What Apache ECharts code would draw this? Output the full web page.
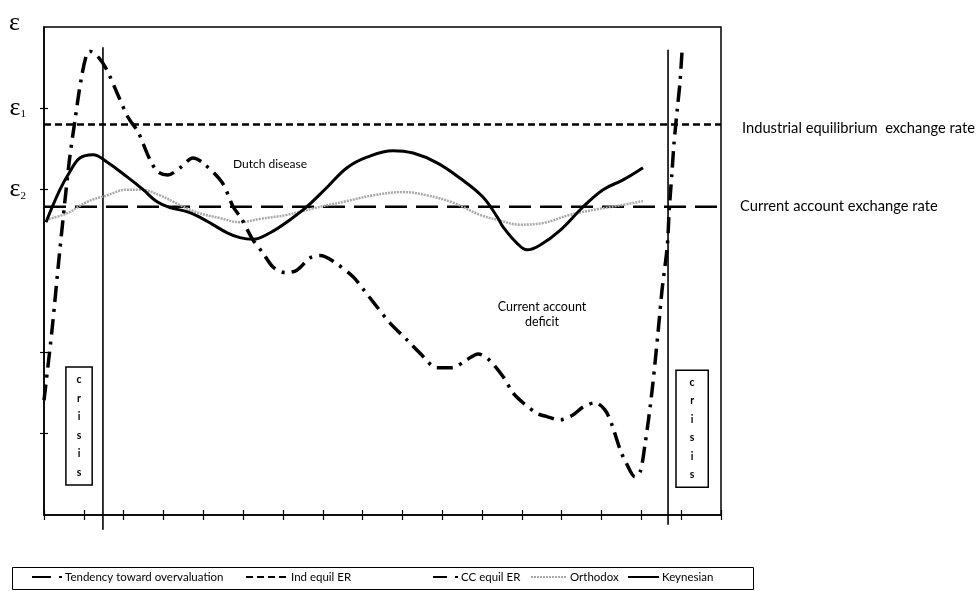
<!DOCTYPE html>
<html>
<head>
<meta charset="utf-8">
<script src="https://cdn.jsdelivr.net/npm/echarts@6/dist/echarts.min.js"></script>
<style>html,body{margin:0;padding:0;background:#fff;}#c{width:980px;height:591px;}</style>
</head>
<body>
<div id="c"></div>
<script>
// x: period index (0..17), y: exchange-rate level (0..6)
const tendency = [[0,1.41],[0.20,2.27],[0.38,3.17],[0.63,4.33],[0.78,4.86],[0.93,5.35],[1.08,5.68],[1.16,5.70],[1.38,5.62],[1.58,5.47],[1.86,5.16],[2.11,4.89],[2.36,4.71],[2.66,4.37],[2.86,4.22],[3.11,4.18],[3.42,4.27],[3.74,4.39],[3.99,4.33],[4.47,4.09],[4.75,3.79],[4.95,3.65],[5.25,3.38],[5.50,3.22],[5.75,3.05],[6.05,2.98],[6.35,3.01],[6.68,3.16],[6.93,3.19],[7.26,3.12],[7.76,2.93],[8.01,2.78],[8.36,2.56],[8.69,2.36],[9.12,2.15],[9.44,1.99],[9.87,1.81],[10.25,1.81],[10.62,1.91],[10.90,1.98],[11.15,1.92],[11.53,1.70],[11.78,1.50],[12.03,1.38],[12.38,1.25],[12.63,1.21],[12.96,1.17],[13.28,1.23],[13.54,1.33],[13.84,1.38],[14.09,1.29],[14.26,1.11],[14.47,0.80],[14.62,0.64],[14.84,0.47],[14.97,0.53],[15.09,0.86],[15.19,1.21],[15.29,1.62],[15.42,2.25],[15.52,2.77],[15.65,3.30],[15.70,3.75],[15.77,4.22],[15.82,4.57],[15.90,4.98],[15.97,5.32],[16.02,5.69]];
const keynesian = [[0.05,3.60],[0.40,4.00],[0.65,4.22],[0.90,4.39],[1.23,4.43],[1.58,4.34],[2.08,4.16],[2.49,4.00],[2.84,3.85],[3.16,3.78],[3.59,3.73],[3.92,3.66],[4.24,3.57],[4.60,3.47],[4.92,3.41],[5.25,3.39],[5.68,3.47],[6.18,3.63],[6.60,3.79],[7.11,4.03],[7.61,4.27],[8.11,4.40],[8.76,4.48],[9.27,4.45],[9.87,4.33],[10.45,4.14],[11.02,3.91],[11.40,3.65],[11.53,3.54],[11.88,3.34],[12.13,3.26],[12.46,3.32],[12.96,3.50],[13.54,3.79],[14.04,4.00],[14.54,4.12],[15.04,4.27]];
const orthodox = [[0.05,3.63],[0.58,3.71],[1.08,3.85],[1.58,3.93],[2.08,4.00],[2.41,4.00],[2.91,3.93],[3.42,3.81],[3.84,3.72],[4.42,3.65],[4.92,3.60],[5.42,3.64],[6.10,3.69],[6.76,3.77],[7.61,3.86],[8.26,3.93],[9.02,3.97],[9.62,3.93],[10.27,3.84],[10.95,3.69],[11.38,3.63],[11.95,3.57],[12.53,3.59],[13.21,3.69],[13.89,3.76],[14.39,3.80],[15.04,3.86]];
const indEquil = 4.8;
const ccEquil = 3.79;
const xRange = [0, 17];
const crisisX = [1.48, 15.67];
const crisisTop = [5.75, 5.72];
const crisisBottom = [-0.18, -0.12];
const crisisBoxX = [[0.55, 1.21], [15.87, 16.68]];
const crisisBoxY = [[0.37, 1.82], [0.34, 1.78]];
const legendNames = ['Tendency toward overvaluation', 'Ind equil ER', 'CC equil ER', 'Orthodox', 'Keynesian'];

const chart = echarts.init(document.getElementById('c'), null, {renderer: 'canvas'});
const FONT = 'Lato';

const crisisSeries = crisisX.map((x, i) => ({
  name: 'crisis' + i, type: 'line', symbol: 'none', clip: false, silent: true, z: 1,
  data: [[x, crisisTop[i]], [x, crisisBottom[i]]],
  lineStyle: {color: '#000', width: 1.6},
  markArea: {
    silent: true,
    itemStyle: {color: '#fff', borderColor: '#000', borderWidth: 1.5},
    label: {show: true, position: 'inside', formatter: 'c\nr\ni\ns\ni\ns', fontFamily: FONT, fontWeight: 'bold', fontSize: 10.5, lineHeight: 18.5, color: '#000'},
    data: [[{coord: [crisisBoxX[i][0], crisisBoxY[i][1]]}, {coord: [crisisBoxX[i][1], crisisBoxY[i][0]]}]]
  }
}));

// one legend component per item (reference spacing is irregular)
const legendLeft = [31, 245, 432, 530, 627];
const legendIconW = [30, 42, 25, 36, 31];
const legendDash = [[19, 8, 3, 8], [7, 4], [14, 8], [2, 1], 'solid'];
const legends = legendNames.map((n, i) => ({
  data: [n], left: legendLeft[i], top: 571, padding: 0,
  itemWidth: legendIconW[i], itemHeight: 10, itemGap: 0,
  itemStyle: {opacity: 0},
  lineStyle: {type: legendDash[i]},
  selectedMode: false,
  textStyle: {fontFamily: FONT, fontSize: 11.5, color: '#000', padding: [0, 0, 0, -2]}
}));

chart.setOption({
  animation: false,
  backgroundColor: '#fff',
  color: ['#000'],
  grid: {left: 44, right: 259, top: 27, bottom: 76, show: true, borderColor: '#000', borderWidth: 1.5, backgroundColor: 'transparent'},
  xAxis: [{
    type: 'value', min: xRange[0], max: xRange[1], interval: 1,
    axisLine: {lineStyle: {color: '#000', width: 1.5}},
    axisTick: {show: true, length: 5, lineStyle: {color: '#000', width: 1.2}},
    axisLabel: {show: false}, splitLine: {show: false}
  }, {
    type: 'value', min: xRange[0], max: xRange[1], interval: 1, position: 'bottom',
    axisLine: {show: false},
    axisTick: {show: true, inside: true, length: 5, lineStyle: {color: '#000', width: 1.2}},
    axisLabel: {show: false}, splitLine: {show: false}
  }],
  yAxis: [{
    type: 'value', min: 0, max: 6, interval: 1,
    axisLine: {show: true, lineStyle: {color: '#000', width: 1.5}},
    axisTick: {show: true, length: 4, customValues: [1, 2, 4, 5], lineStyle: {color: '#000', width: 1.2}},
    axisLabel: {
      show: true, margin: 18, customValues: [4, 5, 6],
      formatter: v => {
        if (v === 6) return '{t|ε}';
        if (v === 5) return '{e|ε}{s|1}';
        if (v === 4) return '{e|ε}{s|2}';
        return '';
      },
      rich: {
        t: {fontFamily: 'Liberation Serif', fontSize: 26, color: '#000', padding: [0, 6, 8, 0]},
        e: {fontFamily: 'Liberation Serif', fontSize: 26, color: '#000'},
        s: {fontFamily: 'Liberation Serif', fontSize: 11, color: '#000', padding: [12, 0, 0, 0]}
      }
    },
    splitLine: {show: false}
  }, {
    type: 'value', min: 0, max: 6, interval: 1, position: 'left',
    axisLine: {show: false},
    axisTick: {show: true, inside: true, length: 4, customValues: [1, 2, 4, 5], lineStyle: {color: '#000', width: 1.2}},
    axisLabel: {show: false}, splitLine: {show: false}
  }],
  legend: legends,
  graphic: [
    {type: 'rect', shape: {x: 12.5, y: 567.5, width: 741, height: 22}, style: {fill: 'none', stroke: '#000', lineWidth: 1}, silent: true},
    {type: 'text', x: 233, y: 158, style: {text: 'Dutch disease', font: '12px ' + FONT, fill: '#000'}},
    {type: 'text', x: 542, y: 300, style: {text: 'Current account', font: '12.5px ' + FONT, fill: '#000', align: 'center'}},
    {type: 'text', x: 542, y: 315, style: {text: 'deficit', font: '12.5px ' + FONT, fill: '#000', align: 'center'}},
    {type: 'text', x: 742, y: 121, style: {text: 'Industrial equilibrium  exchange rate', font: '14.7px ' + FONT, fill: '#000'}},
    {type: 'text', x: 740, y: 199, style: {text: 'Current account exchange rate', font: '14.7px ' + FONT, fill: '#000'}}
  ],
  series: [
    ...crisisSeries,
    {
      name: legendNames[1], type: 'line', symbol: 'none', z: 3,
      data: [[xRange[0], indEquil], [xRange[1], indEquil]],
      lineStyle: {color: '#000', width: 2.5, type: [7, 4]}
    },
    {
      name: legendNames[2], type: 'line', symbol: 'none', z: 3,
      data: [[xRange[0], ccEquil], [xRange[1], ccEquil]],
      lineStyle: {color: '#000', width: 2.5, type: [22, 9]}
    },
    {
      name: legendNames[3], type: 'line', symbol: 'none', smooth: 0.4, z: 4,
      data: orthodox,
      lineStyle: {color: '#a9a9a9', width: 2.5, type: [2, 1]}
    },
    {
      name: legendNames[4], type: 'line', symbol: 'none', smooth: 0.4, z: 5,
      data: keynesian,
      lineStyle: {color: '#000', width: 3}
    },
    {
      name: legendNames[0], type: 'line', symbol: 'none', smooth: 0.3, z: 6,
      data: tendency,
      lineStyle: {color: '#000', width: 3.5, type: [16, 7, 3, 7]}
    }
  ]
});
</script>
</body>
</html>
